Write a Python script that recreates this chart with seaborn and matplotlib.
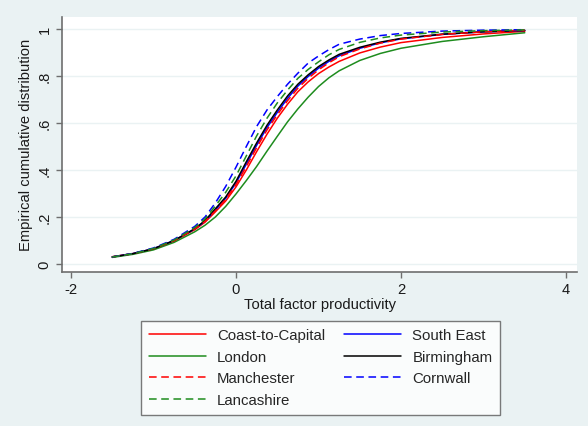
import matplotlib
matplotlib.use("Agg")
import matplotlib.pyplot as plt
import seaborn as sns
import pandas as pd

# ---- data ----
x_grid = [-1.5, -1.25, -1.0, -0.75, -0.5, -0.375, -0.25, -0.125, 0.0, 0.125, 0.25,
          0.375, 0.5, 0.625, 0.75, 0.875, 1.0, 1.125, 1.25, 1.5, 1.75, 2.0, 2.5, 3.0, 3.5]

coast_to_capital = [0.031, 0.044, 0.064, 0.098, 0.146, 0.178, 0.222, 0.268, 0.328, 0.400, 0.478,
                    0.552, 0.620, 0.680, 0.733, 0.775, 0.810, 0.838, 0.862, 0.898, 0.923, 0.942,
                    0.964, 0.979, 0.990]
south_east = [0.030, 0.044, 0.065, 0.100, 0.149, 0.183, 0.230, 0.280, 0.345, 0.425, 0.505,
              0.580, 0.645, 0.705, 0.757, 0.798, 0.833, 0.862, 0.886, 0.918, 0.941, 0.958,
              0.977, 0.988, 0.994]
london = [0.028, 0.041, 0.060, 0.092, 0.137, 0.165, 0.200, 0.245, 0.298, 0.355, 0.415,
          0.480, 0.543, 0.605, 0.660, 0.710, 0.755, 0.792, 0.822, 0.866, 0.896, 0.918,
          0.947, 0.967, 0.984]
birmingham = [0.030, 0.044, 0.065, 0.100, 0.150, 0.185, 0.235, 0.285, 0.352, 0.435, 0.515,
              0.590, 0.655, 0.715, 0.765, 0.805, 0.840, 0.868, 0.892, 0.922, 0.944, 0.960,
              0.978, 0.988, 0.994]
manchester = [0.030, 0.044, 0.065, 0.099, 0.148, 0.181, 0.226, 0.275, 0.338, 0.415, 0.495,
              0.570, 0.635, 0.695, 0.748, 0.790, 0.826, 0.856, 0.882, 0.915, 0.940, 0.957,
              0.977, 0.988, 0.995]
cornwall = [0.030, 0.045, 0.068, 0.105, 0.160, 0.200, 0.260, 0.330, 0.412, 0.500, 0.585,
            0.655, 0.712, 0.765, 0.812, 0.855, 0.885, 0.912, 0.935, 0.957, 0.972, 0.981,
            0.991, 0.995, 0.997]
lancashire = [0.030, 0.044, 0.066, 0.102, 0.155, 0.192, 0.247, 0.305, 0.375, 0.460, 0.545,
              0.620, 0.685, 0.740, 0.790, 0.828, 0.860, 0.890, 0.913, 0.943, 0.962, 0.974,
              0.987, 0.993, 0.996]

series_names = ["Coast-to-Capital", "South East", "London", "Birmingham",
                "Manchester", "Cornwall", "Lancashire"]
series_values = [coast_to_capital, south_east, london, birmingham,
                 manchester, cornwall, lancashire]
series_colors = ["#ff0000", "#0000ff", "#1e8c1e", "#000000",
                 "#ff0000", "#0000ff", "#1e8c1e"]
series_dashed = [False, False, False, False, True, True, True]

x_ticks = [-2, 0, 2, 4]
y_ticks = [0, 0.2, 0.4, 0.6, 0.8, 1.0]
y_tick_labels = ["0", ".2", ".4", ".6", ".8", "1"]

# ---- style ----
sns.set_style("white")
plt.rcParams["font.family"] = ["Liberation Sans", "DejaVu Sans"]

bg = "#EAF2F3"
fig = plt.figure(figsize=(5.88, 4.27), dpi=100, facecolor=bg)
ax = fig.add_axes([62 / 588, 1 - 272.5 / 427, (577 - 62) / 588, (272.5 - 18) / 427])
ax.set_facecolor("white")

frames = []
for name, vals in zip(series_names, series_values):
    frames.append(pd.DataFrame({"tfp": x_grid, "cdf": vals, "region": name}))
df = pd.concat(frames, ignore_index=True)

handles = {}
for name, col, dashed in zip(series_names, series_colors, series_dashed):
    sub = df[df["region"] == name]
    sns.lineplot(data=sub, x="tfp", y="cdf", ax=ax, color=col, lw=1.1,
                 linestyle=(0, (5, 3)) if dashed else "-", label=name, legend=False)
    handles[name] = ax.lines[-1]

ax.set_xlim(-2.109, 4.133)
ax.set_ylim(-0.032, 1.051)
ax.set_xticks(x_ticks)
ax.set_xticklabels([str(t) for t in x_ticks])
ax.set_yticks(y_ticks)
ax.set_yticklabels(y_tick_labels, rotation=90, va="center")
ax.grid(axis="y", color=bg, lw=1.0)
ax.grid(axis="x", visible=False)

for s in ["top", "right"]:
    ax.spines[s].set_visible(False)
for s in ["left", "bottom"]:
    ax.spines[s].set_color("#6e6e6e")
    ax.spines[s].set_linewidth(1.2)

ax.tick_params(axis="both", direction="out", length=4, width=1, color="#6e6e6e",
               labelsize=10.6, labelcolor="#1a1a1a", left=True, bottom=True)
ax.set_xlabel("Total factor productivity", fontsize=10.6, color="#1a1a1a", labelpad=1)
ax.set_ylabel("Empirical cumulative distribution", fontsize=10.6, color="#1a1a1a", labelpad=3)

order = ["Coast-to-Capital", "London", "Manchester", "Lancashire",
         "South East", "Birmingham", "Cornwall"]
leg = fig.legend([handles[n] for n in order], order, loc="upper left",
                 bbox_to_anchor=(141 / 588, 1 - 322 / 427, (500 - 141) / 588, 0),
                 mode="expand", ncol=2, fontsize=10.8, frameon=True, fancybox=False,
                 handlelength=3.8, handletextpad=0.75, columnspacing=2.0,
                 labelspacing=0.5, borderpad=0.5, borderaxespad=0)
leg.get_frame().set_edgecolor("#5a5a5a")
leg.get_frame().set_linewidth(1.0)
leg.get_frame().set_facecolor("white")

fig.savefig("out.png", dpi=100, facecolor=bg)
